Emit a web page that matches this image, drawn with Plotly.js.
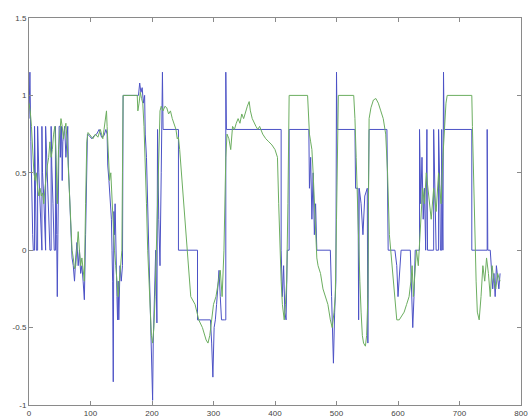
<!DOCTYPE html>
<html>
<head>
<meta charset="utf-8">
<script src="https://cdn.plot.ly/plotly-3.0.1.min.js"></script>
<style>html,body{margin:0;padding:0;background:#fff;}#chart{width:529px;height:419px;}</style>
</head>
<body>
<div id="chart"></div>
<script>
// Blue series vertices (sample index, value)
const blueX = [0,1.5,3,4,5,6,7,9,9,10,11,12,14,14,16,18,20,21,21,22,24,26,27,27,29,31,33,34,36,36,37,39,41,43,43,44,45,46,47,48,49,51,51,52,53,54,55,56,58,60,62,63,64,66,68,70,72,74,76,78,80,82,84,86,88,90,92,94,95,98,102,106,110,114,118,122,125,127,128,130,132,134,135,136,137,138,139,140,141,142,143,144,145,146,148,150,152,153,176,178,180,182,184,186,188,189,191,193,195,197,199,201,202,204,206,208,209,211,213,215,217,218,243,243,274,274,290,295,297,299,301,303,305,307,309,311,313,318,320,320,321,410,410,412,414,416,418,420,423,423,455,456,458,460,462,464,466,468,470,490,492,494,495,497,499,500,501,530,531,535,536,537,540,543,546,550,551,552,553,582,584,595,598,600,602,605,620,622,624,626,628,635,635,637,639,641,643,645,647,648,658,658,660,662,666,666,668,669,671,671,672,673,674,675,720,720,745,745,746,750,752,754,756,758,760,762,764,766];
const blueY = [0.85,1.15,0.7,0.45,0.3,0.1,0.0,0.0,0.8,0.6,0.2,0.0,0.0,0.8,0.5,0.3,0.0,0.0,0.8,0.5,0.35,0.0,0.0,0.8,0.6,0.4,0.2,0.0,0.0,0.8,0.55,0.3,0.0,0.0,0.8,0.5,0.1,-0.3,0.1,0.5,0.8,0.8,0.6,0.7,0.8,0.45,0.7,0.75,0.8,0.6,0.8,0.8,0.55,0.3,0.1,-0.05,-0.1,-0.2,-0.05,0.05,-0.1,0.0,-0.15,-0.1,-0.2,-0.32,0.1,0.5,0.75,0.74,0.72,0.74,0.75,0.78,0.73,0.74,0.78,0.75,0.55,0.45,0.3,0.2,0.0,-0.2,-0.85,0.25,0.1,0.3,0.0,-0.1,-0.3,-0.45,-0.2,-0.45,-0.1,-0.2,-0.1,1.0,1.0,1.0,1.08,1.02,1.05,0.95,1.0,0.75,0.6,0.3,0.0,-0.4,-0.7,-0.97,-0.6,-0.3,0.0,-0.47,0.78,0.2,-0.1,0.5,1.15,0.78,0.78,0.0,0.0,-0.45,-0.45,-0.45,-0.6,-0.82,-0.5,-0.45,-0.35,-0.2,-0.13,-0.3,-0.45,-0.45,-0.45,1.15,0.78,0.78,0.0,-0.3,-0.1,-0.4,-0.45,0.0,0.0,0.78,0.78,0.4,0.6,0.2,0.5,0.1,0.3,0.0,0.0,0.0,-0.3,-0.55,-0.73,-0.4,-0.2,1.15,0.78,0.78,0.4,0.4,-0.45,0.4,0.3,0.1,0.35,0.4,-0.6,0.4,0.78,0.78,0.0,0.0,-0.1,-0.3,-0.15,0.0,0.0,-0.2,-0.5,-0.3,0.0,0.0,0.78,0.3,0.6,0.2,0.4,0.0,0.78,0.0,0.0,0.78,0.3,0.0,0.0,0.78,0.4,0.0,0.0,0.78,0.3,0.0,1.15,0.78,0.78,0.0,0.0,0.78,0.0,0.0,-0.1,-0.25,-0.15,-0.3,-0.1,-0.2,-0.25,-0.15];

// Green series vertices (sample index, value)
const greenX = [0,2,4,6,8,10,12,14,16,18,20,22,24,26,28,30,32,34,36,38,40,42,44,46,48,50,52,54,56,58,60,62,64,66,68,70,72,74,76,78,80,82,84,86,88,90,92,94,96,100,104,108,112,116,120,122,124,126,127,129,131,133,135,137,139,141,143,145,147,149,151,152,153,176,177,179,181,183,185,187,189,191,193,195,197,199,201,203,205,207,209,211,213,215,218,221,224,227,230,233,236,239,241,243,245,248,251,254,257,263,270,276,282,288,291,294,297,300,304,308,311,314,317,320,322,325,328,331,334,337,340,343,346,349,352,355,358,360,363,366,369,372,375,380,385,390,395,400,404,406,408,410,412,415,417,419,421,423,453,454,456,458,460,462,464,466,468,470,474,478,482,486,490,493,496,498,500,502,503,528,530,532,534,536,538,540,542,544,547,549,551,552,553,556,560,564,568,572,576,580,583,586,589,592,595,598,602,606,610,614,618,621,623,625,627,630,633,636,640,643,646,650,654,658,662,666,670,673,676,678,680,720,721,723,725,727,729,732,735,738,741,744,747,750,753,756,759,762,766];
const greenY = [0.95,0.9,0.8,0.6,0.5,0.45,0.5,0.4,0.35,0.4,0.35,0.37,0.3,0.4,0.5,0.55,0.6,0.7,0.6,0.65,0.75,0.8,0.6,0.3,0.65,0.78,0.85,0.8,0.72,0.78,0.82,0.7,0.5,0.3,0.1,0.0,-0.05,-0.12,-0.1,0.0,0.12,0.0,-0.1,-0.05,-0.15,-0.2,0.3,0.7,0.76,0.74,0.72,0.75,0.73,0.78,0.72,0.78,0.85,0.9,0.8,0.6,0.45,0.5,0.3,0.1,0.0,-0.1,-0.2,-0.3,-0.2,-0.1,0.0,0.5,1.0,1.0,0.9,0.95,1.02,0.98,0.95,0.8,0.6,0.3,0.0,-0.2,-0.4,-0.55,-0.6,-0.5,-0.3,0.0,0.4,0.75,0.9,0.93,0.9,0.93,0.92,0.88,0.9,0.85,0.82,0.78,0.72,0.73,0.65,0.5,0.35,0.15,0.0,-0.3,-0.35,-0.45,-0.5,-0.58,-0.6,-0.55,-0.45,-0.35,-0.3,-0.2,-0.13,-0.3,0.0,0.6,0.75,0.72,0.65,0.8,0.78,0.82,0.85,0.82,0.88,0.85,0.9,0.93,0.96,0.9,0.85,0.82,0.8,0.78,0.8,0.75,0.72,0.7,0.68,0.65,0.6,0.3,0.0,-0.2,-0.35,-0.45,-0.35,-0.2,0.3,1.0,1.0,0.9,0.75,0.7,0.65,0.5,0.3,0.1,-0.05,-0.1,-0.15,-0.25,-0.3,-0.35,-0.45,-0.5,-0.4,-0.3,0.2,0.8,1.0,1.0,0.85,0.6,0.3,0.0,-0.2,-0.4,-0.55,-0.6,-0.62,-0.55,-0.3,0.3,0.85,0.92,0.97,0.98,0.95,0.9,0.85,0.75,0.5,0.1,-0.05,-0.2,-0.35,-0.45,-0.45,-0.42,-0.4,-0.35,-0.3,-0.2,-0.1,-0.3,-0.15,0.0,-0.1,0.1,0.4,0.3,0.5,0.35,0.2,0.4,0.25,0.5,0.3,0.6,0.85,0.95,1.0,1.0,0.8,0.4,0.1,-0.2,-0.4,-0.45,-0.3,-0.1,-0.2,-0.05,-0.15,-0.3,-0.1,-0.2,-0.25,-0.15,-0.2,-0.18];

const xTicks = [0,100,200,300,400,500,600,700,800];
const yTicks = [-1,-0.5,0,0.5,1,1.5];

const traces = [
  {x: blueX, y: blueY, type: 'scatter', mode: 'lines', line: {color: '#4c52c6', width: 1}, hoverinfo: 'skip'},
  {x: greenX, y: greenY, type: 'scatter', mode: 'lines', line: {color: '#6cae60', width: 1}, hoverinfo: 'skip'}
];

const axisCommon = {
  showgrid: false, zeroline: false, showline: true, linecolor: '#8a8a8a', linewidth: 1,
  mirror: 'ticks', ticks: 'inside', ticklen: 4, tickcolor: '#8a8a8a',
  tickfont: {family: 'Liberation Sans, Arial, sans-serif', size: 8, color: '#444'}
};

const layout = {
  width: 529, height: 419,
  margin: {l: 29, r: 8, t: 18, b: 14},
  paper_bgcolor: '#ffffff', plot_bgcolor: '#ffffff',
  showlegend: false,
  xaxis: Object.assign({}, axisCommon, {range: [0, 800], tickvals: xTicks, ticktext: xTicks.map(String)}),
  yaxis: Object.assign({}, axisCommon, {range: [-1, 1.5], tickvals: yTicks, ticktext: yTicks.map(String)})
};

Plotly.newPlot('chart', traces, layout, {staticPlot: true, displayModeBar: false});
</script>
</body>
</html>
